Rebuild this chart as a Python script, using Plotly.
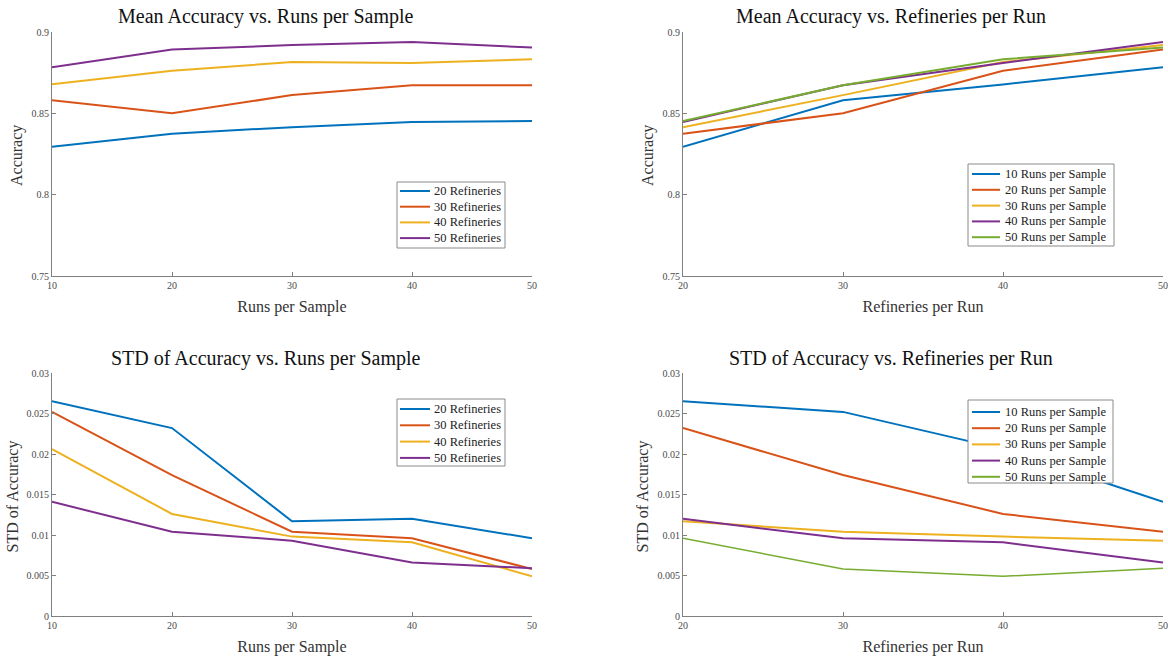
import plotly.graph_objects as go

runs = [10, 20, 30, 40, 50]
refineries = [20, 30, 40, 50]

# Mean accuracy, one list per refinery count (over runs per sample)
mean_20_ref = [0.8295, 0.8375, 0.8415, 0.8447, 0.8453]
mean_30_ref = [0.8580, 0.8500, 0.8612, 0.8673, 0.8672]
mean_40_ref = [0.8678, 0.8762, 0.8815, 0.8810, 0.8832]
mean_50_ref = [0.8783, 0.8892, 0.8920, 0.8938, 0.8905]

# STD of accuracy, one list per refinery count (over runs per sample)
std_20_ref = [0.0265, 0.0232, 0.0117, 0.0120, 0.0096]
std_30_ref = [0.0252, 0.0174, 0.0104, 0.0096, 0.0058]
std_40_ref = [0.0206, 0.0126, 0.0098, 0.0091, 0.0049]
std_50_ref = [0.0141, 0.0104, 0.0093, 0.0066, 0.0059]

mean_by_ref = [mean_20_ref, mean_30_ref, mean_40_ref, mean_50_ref]
std_by_ref = [std_20_ref, std_30_ref, std_40_ref, std_50_ref]

ref_names = ["20 Refineries", "30 Refineries", "40 Refineries", "50 Refineries"]
run_names = ["10 Runs per Sample", "20 Runs per Sample", "30 Runs per Sample",
             "40 Runs per Sample", "50 Runs per Sample"]

colors = ["#0072BD", "#D95319", "#EDB120", "#7E2F8E", "#77AC30"]

W, H = 1168, 656
FONT = "Liberation Serif, Times New Roman, serif"


def px_x(p):
    return p / W


def px_y(p):
    return 1 - p / H


fig = go.Figure()

# Panel 1: mean vs runs, series per refinery
for i, name in enumerate(ref_names):
    fig.add_trace(go.Scatter(x=runs, y=mean_by_ref[i], mode="lines", name=name,
                             line=dict(color=colors[i], width=2), showlegend=False,
                             xaxis="x", yaxis="y"))
# Panel 2: mean vs refineries, series per runs
for j, name in enumerate(run_names):
    fig.add_trace(go.Scatter(x=refineries, y=[mean_by_ref[i][j] for i in range(len(refineries))],
                             mode="lines", name=name, showlegend=False,
                             line=dict(color=colors[j], width=2),
                             xaxis="x2", yaxis="y2"))
# Panel 3: std vs runs
for i, name in enumerate(ref_names):
    fig.add_trace(go.Scatter(x=runs, y=std_by_ref[i], mode="lines", name=name,
                             line=dict(color=colors[i], width=2), showlegend=False,
                             xaxis="x3", yaxis="y3"))
# Panel 4: std vs refineries
for j, name in enumerate(run_names):
    fig.add_trace(go.Scatter(x=refineries, y=[std_by_ref[i][j] for i in range(len(refineries))],
                             mode="lines", name=name, showlegend=False,
                             line=dict(color=colors[j], width=1.5 if j == 4 else 2),
                             xaxis="x4", yaxis="y4"))

axis_common = dict(showline=True, linecolor="#808080", linewidth=1, ticks="inside",
                   ticklen=4, tickcolor="#808080", showgrid=False, zeroline=False,
                   automargin=False,
                   tickfont=dict(family=FONT, size=10, color="#4a4a4a"),
                   title_font=dict(family=FONT, size=16, color="#333333"))

layout = dict(width=W, height=H, margin=dict(l=0, r=0, t=0, b=0),
              paper_bgcolor="white", plot_bgcolor="white", showlegend=False,
              font=dict(family=FONT))

# panel pixel boxes: (left, right, top, bottom)
boxes = {
    1: (52, 532, 32, 276),
    2: (683, 1163, 32, 276),
    3: (52, 532, 373, 616),
    4: (683, 1163, 373, 616),
}

specs = {
    1: dict(xr=[10, 50], xt=runs, yr=[0.75, 0.9], yt=[0.75, 0.8, 0.85, 0.9],
            ytt=["0.75", "0.8", "0.85", "0.9"], xtitle="Runs per Sample",
            ytitle="Accuracy", ytx=17),
    2: dict(xr=[20, 50], xt=refineries, yr=[0.75, 0.9], yt=[0.75, 0.8, 0.85, 0.9],
            ytt=["0.75", "0.8", "0.85", "0.9"], xtitle="Refineries per Run",
            ytitle="Accuracy", ytx=648),
    3: dict(xr=[10, 50], xt=runs, yr=[0, 0.03], yt=[0, 0.005, 0.01, 0.015, 0.02, 0.025, 0.03],
            ytt=["0", "0.005", "0.01", "0.015", "0.02", "0.025", "0.03"],
            xtitle="Runs per Sample", ytitle="STD of Accuracy", ytx=12),
    4: dict(xr=[20, 50], xt=refineries, yr=[0, 0.03], yt=[0, 0.005, 0.01, 0.015, 0.02, 0.025, 0.03],
            ytt=["0", "0.005", "0.01", "0.015", "0.02", "0.025", "0.03"],
            xtitle="Refineries per Run", ytitle="STD of Accuracy", ytx=642),
}

annotations = []
for k, s in specs.items():
    l, r, t, b = boxes[k]
    xa = "xaxis" if k == 1 else f"xaxis{k}"
    ya = "yaxis" if k == 1 else f"yaxis{k}"
    xref = "x" if k == 1 else f"x{k}"
    yref = "y" if k == 1 else f"y{k}"
    layout[xa] = dict(axis_common, domain=[px_x(l), px_x(r)], range=s["xr"],
                      tickvals=s["xt"], anchor=yref,
                      title=dict(text=s["xtitle"], standoff=10))
    layout[ya] = dict(axis_common, domain=[px_y(b), px_y(t)], range=s["yr"],
                      tickvals=s["yt"], ticktext=s["ytt"], anchor=xref)
    annotations.append(dict(text=s["ytitle"], x=px_x(s["ytx"]), y=px_y((t + b) / 2 + 2),
                            xref="paper", yref="paper", showarrow=False, textangle=-90,
                            xanchor="center", yanchor="middle",
                            font=dict(family=FONT, size=16, color="#333333")))

# Legend boxes drawn as layout shapes + annotations (MATLAB-style compact legends)
legend_specs = [
    (ref_names, (397, 505, 182, 248), 191, 15.7, 400, 430, 432),
    (run_names, (968, 1114, 164, 246), 174, 15.8, 972, 1000, 1003),
    (ref_names, (397, 505, 399, 466), 409, 16.3, 400, 430, 432),
    (run_names, (968, 1113, 400, 483), 412, 16.2, 972, 1000, 1003),
]

shapes = []
for names, (bl, br, bt, bb), y0, dy, lx0, lx1, tx in legend_specs:
    shapes.append(dict(type="rect", xref="paper", yref="paper",
                       x0=px_x(bl), x1=px_x(br), y0=px_y(bb), y1=px_y(bt),
                       line=dict(color="#8a8a8a", width=1), fillcolor="white", layer="above"))
    for n, name in enumerate(names):
        yy = y0 + dy * n
        shapes.append(dict(type="line", xref="paper", yref="paper",
                           x0=px_x(lx0), x1=px_x(lx1), y0=px_y(yy), y1=px_y(yy),
                           line=dict(color=colors[n], width=2), layer="above"))
        annotations.append(dict(text=name, x=px_x(tx), y=px_y(yy), xref="paper", yref="paper",
                                showarrow=False, xanchor="left", yanchor="middle",
                                font=dict(family=FONT, size=12.5, color="#222222")))

titles = [
    ("Mean Accuracy vs. Runs per Sample", 266, 17),
    ("Mean Accuracy vs. Refineries per Run", 891, 17),
    ("STD of Accuracy vs. Runs per Sample", 266, 358),
    ("STD of Accuracy vs. Refineries per Run", 891, 358),
]
for t, cx, cy in titles:
    annotations.append(dict(text=t, x=px_x(cx), y=px_y(cy), xref="paper", yref="paper",
                            showarrow=False, xanchor="center", yanchor="middle",
                            font=dict(family=FONT, size=20, color="#111111")))

layout["shapes"] = shapes
layout["annotations"] = annotations

fig.update_layout(**layout)
fig.write_html("out.html")
